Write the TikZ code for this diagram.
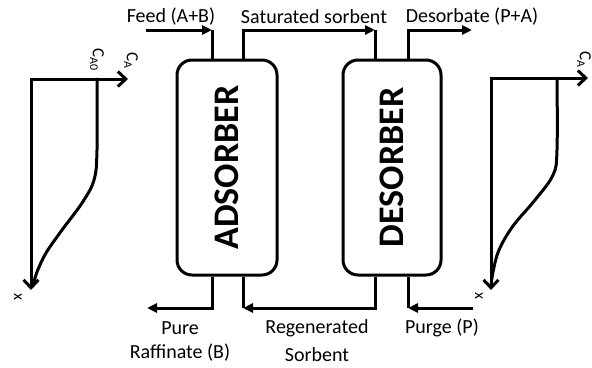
\documentclass[tikz,border=0pt]{standalone}
\usepackage{fontspec}
\setmainfont{Carlito}
\usetikzlibrary{arrows.meta,calc}

\begin{document}
\begin{tikzpicture}[x=1pt,y=-1pt,
  vessel/.style={draw,line width=3pt,rounded corners=15pt,
    minimum width=100pt,minimum height=215pt,inner sep=0pt},
  vessellabel/.style={font=\fontsize{36}{36}\selectfont\bfseries,rotate=90},
  pipe/.style={line width=3pt,line join=miter},
  flow/.style={pipe,-{Triangle[length=10pt,width=9pt]}},
  axisline/.style={line width=3pt,line join=miter,
    {Straight Barb[length=8pt,width=15pt]}-{Straight Barb[length=8pt,width=15pt]}},
  profile/.style={line width=3pt,line cap=round},
  lbl/.style={font=\fontsize{20}{20}\selectfont,inner sep=0pt},
  axlbl/.style={font=\fontsize{17}{17}\selectfont,inner sep=0pt,rotate=-90},
  xlbl/.style={font=\fontsize{16}{16}\selectfont,inner sep=0pt,rotate=-90}
]
\clip (0,0) rectangle (592,367);

% columns
\node[vessel] (ads) at (227,167.5) {};
\node[vessel,minimum width=98pt] (des) at (392,167.5) {};
\node[vessellabel] (adsname) at (ads.center) {ADSORBER};
\node[vessellabel] (desname) at (des.center) {DESORBER};

% nozzles on the columns
\path (ads.north) ++(-15,0) coordinate (adsTL);
\path (ads.north) ++(16,0)  coordinate (adsTR);
\path (ads.south) ++(-15,0) coordinate (adsBL);
\path (ads.south) ++(16,0)  coordinate (adsBR);
\path (des.north) ++(-17,0) coordinate (desTL);
\path (des.north) ++(16,0)  coordinate (desTR);
\path (des.south) ++(-17,0) coordinate (desBL);
\path (des.south) ++(16,0)  coordinate (desBR);

% stream ends
\coordinate (feedIn)   at (146,30);
\coordinate (feedEnd)  at (212,30);
\coordinate (satEnd)   at (375,30);
\coordinate (desOut)   at (472,30);
\coordinate (raffOut)  at (147,308);
\coordinate (regenEnd) at (243,308);
\coordinate (purgeIn)  at (473,308);
\coordinate (purgeEnd) at (408,308);

% streams
\draw[flow] (feedIn) -- (feedEnd);
\draw[pipe] (feedEnd) -- (adsTL);
\draw[flow] (adsTR) |- (satEnd);
\draw[pipe] (satEnd) -- (desTL);
\draw[flow] (desTR) |- (desOut);
\draw[flow] (adsBL) |- (raffOut);
\draw[flow] (desBL) |- (regenEnd);
\draw[pipe] (regenEnd) -- (adsBR);
\draw[flow] (purgeIn) -- (purgeEnd);
\draw[pipe] (purgeEnd) -- (desBR);

% stream labels
\node[lbl] (tFeed)  at (171,17) {Feed (A+B)};
\node[lbl] (tSat)   at (314,17) {Saturated sorbent};
\node[lbl] (tDes)   at (472,17) {Desorbate (P+A)};
\node[lbl] (tPure)  at (180,328) {Pure};
\node[lbl] (tRaff)  at (180,353) {Raffinate (B)};
\node[lbl] (tRegen) at (317,328) {Regenerated};
\node[lbl] (tSorb)  at (317,355) {Sorbent};
\node[lbl] (tPurge) at (442,328) {Purge (P)};

% concentration profile in the adsorber
\coordinate (o1) at (31,79);
\coordinate (x1) at (31,290);
\coordinate (c1) at (128,79);
\draw[axisline] (x1) -- (o1) -- (c1);
\draw[profile] plot[smooth,tension=0.6] coordinates
  {(97,79) (97,150) (94,180) (82,203) (62,230) (46,253) (37,272) (33,286)};
\node[axlbl] (cA0) at (97,60) {C\textsubscript{A0}};
\node[axlbl] (cA1) at (131,61) {C\textsubscript{A}};
\node[xlbl] (xl1) at (18,297) {x};

% concentration profile in the desorber
\coordinate (o2) at (491,78);
\coordinate (x2) at (491,290);
\coordinate (c2) at (588,78);
\draw[axisline] (x2) -- (o2) -- (c2);
\draw[profile] plot[smooth,tension=0.6] coordinates
  {(557,78) (557,150) (553,175) (535,200) (513,226) (499,250) (493,272) (491,286)};
\node[axlbl] (cA2) at (584,60) {C\textsubscript{A}};
\node[xlbl] (xl2) at (479,296) {x};
\end{tikzpicture}
\end{document}
